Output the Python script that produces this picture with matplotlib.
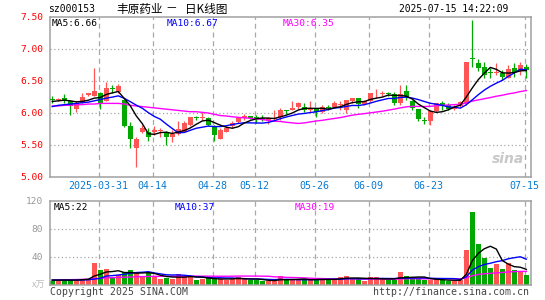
import numpy as np
import pandas as pd
import matplotlib
matplotlib.use("Agg")
import matplotlib.pyplot as plt
from matplotlib.transforms import blended_transform_factory

# ---------------- data ----------------
open_ = [6.22, 6.21, 6.23, 6.18, 6.07, 6.16, 6.28, 6.27, 6.32, 6.19,
         6.38, 6.33, 6.20, 5.80, 5.46, 5.70, 5.71, 5.71, 5.72, 5.69,
         5.62, 5.67, 5.71, 5.81, 5.94, 5.92, 5.92, 5.80, 5.60, 5.71,
         5.79, 5.86, 5.92, 5.95, 5.93, 5.92, 5.88, 5.91, 5.93, 6.04,
         6.05, 6.10, 6.10, 6.05, 6.07, 6.02, 6.09, 6.10, 6.13, 6.05,
         6.19, 6.23, 6.14, 6.18, 6.29, 6.30, 6.31, 6.30, 6.16, 6.34,
         6.19, 6.06, 5.89, 5.88, 6.03, 6.16, 6.13, 6.07, 6.11, 6.14,
         6.86, 6.78, 6.72, 6.63, 6.63, 6.62, 6.55, 6.70, 6.65, 6.72]
high = [6.27, 6.23, 6.29, 6.20, 6.18, 6.31, 6.32, 6.71, 6.33, 6.48,
        6.44, 6.46, 6.21, 5.86, 5.62, 5.81, 5.76, 5.80, 5.77, 5.72,
        5.73, 5.87, 5.87, 5.94, 5.96, 6.02, 5.94, 5.81, 5.76, 5.79,
        5.87, 5.94, 5.98, 5.96, 5.97, 5.97, 5.94, 6.04, 6.08, 6.05,
        6.18, 6.17, 6.15, 6.18, 6.08, 6.12, 6.12, 6.19, 6.18, 6.21,
        6.24, 6.24, 6.21, 6.32, 6.37, 6.35, 6.33, 6.33, 6.44, 6.44,
        6.21, 6.07, 5.94, 6.05, 6.16, 6.18, 6.15, 6.12, 6.18, 6.79,
        7.45, 6.85, 6.80, 6.70, 6.78, 6.67, 6.75, 6.78, 6.80, 6.76]
low = [6.16, 6.19, 6.15, 5.97, 6.02, 6.16, 6.26, 6.27, 6.06, 6.18,
       6.32, 6.32, 5.78, 5.46, 5.16, 5.69, 5.57, 5.66, 5.63, 5.50,
       5.55, 5.66, 5.70, 5.80, 5.89, 5.89, 5.80, 5.57, 5.59, 5.70,
       5.76, 5.84, 5.89, 5.91, 5.85, 5.87, 5.83, 5.89, 5.89, 5.98,
       6.04, 6.06, 6.02, 6.02, 5.94, 6.00, 6.05, 6.09, 6.05, 6.00,
       6.15, 6.08, 6.13, 6.17, 6.23, 6.27, 6.26, 6.13, 6.13, 6.21,
       6.05, 5.88, 5.83, 5.81, 6.02, 6.04, 6.05, 6.05, 6.10, 6.12,
       6.72, 6.65, 6.54, 6.54, 6.59, 6.52, 6.54, 6.57, 6.59, 6.55]
close = [6.21, 6.22, 6.18, 6.11, 6.15, 6.25, 6.31, 6.34, 6.16, 6.39,
         6.37, 6.42, 5.79, 5.59, 5.60, 5.77, 5.63, 5.74, 5.73, 5.63,
         5.67, 5.75, 5.85, 5.93, 5.92, 5.93, 5.81, 5.66, 5.73, 5.76,
         5.85, 5.93, 5.95, 5.92, 5.90, 5.91, 5.92, 5.92, 6.05, 6.03,
         6.08, 6.15, 6.05, 6.06, 6.02, 6.09, 6.08, 6.16, 6.14, 6.20,
         6.23, 6.14, 6.18, 6.31, 6.30, 6.31, 6.30, 6.16, 6.30, 6.25,
         6.08, 5.91, 5.88, 6.03, 6.15, 6.13, 6.06, 6.10, 6.17, 6.79,
         6.84, 6.71, 6.60, 6.62, 6.64, 6.57, 6.69, 6.64, 6.75, 6.67]
volume = [6, 6, 8, 8, 7, 9, 9, 31, 21, 23,
          12, 15, 18, 21, 19, 13, 17, 13, 8, 10,
          9, 16, 13, 12, 7, 8, 10, 9, 9, 7,
          9, 12, 8, 7, 7, 5.7, 6, 6, 13, 7,
          7, 8, 8, 8, 8, 8, 8, 8, 12, 13,
          9, 8, 6, 11, 11, 8, 7, 7, 18, 13,
          10, 9, 7, 7, 8, 7, 6, 6, 7, 50,
          105, 58, 39, 24.8, 30, 22.9, 32, 21.4, 20.5, 15]

# moving-average values at the left edge (they depend on days before the window)
ma5_head = [6.18, 6.19, 6.20, 6.19]
ma10_head = [6.10, 6.12, 6.13, 6.14, 6.15, 6.16, 6.17, 6.19, 6.21]
ma30_head = [6.11, 6.11, 6.12, 6.12, 6.13, 6.13, 6.14, 6.14, 6.15, 6.15,
             6.15, 6.15, 6.14, 6.12, 6.11, 6.10, 6.09, 6.08, 6.07, 6.06,
             6.05, 6.04, 6.03, 6.02, 6.02, 6.01, 6.00, 5.98, 5.96]
vma5_head = [7, 7, 7, 7]
vma10_head = [7, 7, 7, 7, 7, 7.2, 7.4, 8.5, 9.5]
vma30_head = [7.0, 7.2, 7.4, 7.6, 7.8, 8.0, 8.3, 9.0, 9.6, 10.2,
              10.5, 10.8, 11.1, 11.4, 11.7, 12.0, 12.2, 12.3, 12.4, 12.4,
              12.5, 12.5, 12.5, 12.6, 12.6, 12.6, 12.6, 12.5, 12.5]

tick_idx = [8, 17, 27, 34, 44, 53, 63, 79]
tick_labels = ["2025-03-31", "04-14", "04-28", "05-12", "05-26", "06-09", "06-23", "07-15"]
price_ticks = [5.0, 5.5, 6.0, 6.5, 7.0, 7.5]
vol_ticks = [40, 80, 120]

# ---------------- helpers ----------------
def ma(values, n, head):
    s = pd.Series(values, dtype=float).rolling(n).mean().to_numpy()
    s[:len(head)] = head
    return s

W, H = 545, 300
fig = plt.figure(figsize=(W / 100, H / 100), dpi=100)
fig.patch.set_facecolor("white")

def px_ax(l, t, r, b):
    return fig.add_axes([l / W, 1 - b / H, (r - l) / W, (b - t) / H])

def ftext(x, y, s, **kw):
    kw.setdefault("va", "center")
    fig.text(x / W, 1 - y / H, s, **kw)

MONO = "DejaVu Sans Mono"
CJK = ["Noto Sans CJK SC", "DejaVu Sans"]
RED = "#FF5555"
GREEN = "#00A800"
GRID = "#A8A8A8"
SPINE = "#A0A0A0"

n = len(close)
x = np.arange(n)
o = np.array(open_); c = np.array(close); h = np.array(high); l = np.array(low)
up = c >= o
cols = np.where(up, RED, GREEN)
x0, x1 = -0.383, 79.78

ax = px_ax(50, 17, 531, 177)
axv = px_ax(50, 201, 531, 285)

for a in (ax, axv):
    a.set_xlim(x0, x1)
    for sp in a.spines.values():
        sp.set_color(SPINE)
        sp.set_linewidth(1.1)
    a.tick_params(axis="both", length=0)
    a.set_xticks([])
    for t in tick_idx:
        a.axvline(t - 0.3, color=GRID, lw=0.9, ls=(0, (4, 3)), zorder=0)

# ---- price panel ----
ax.set_ylim(5.0, 7.5)
for yv in price_ticks[1:-1]:
    ax.axhline(yv, color=GRID, lw=0.9, ls=(0, (1, 2)), zorder=0)
ax.set_yticks(price_ticks)
ax.set_yticklabels(["%.2f" % v for v in price_ticks], color="#FF0000",
                   fontfamily=MONO, fontsize=6.8)
ax.tick_params(axis="y", pad=5)

ax.vlines(x, l, h, colors=cols, lw=0.9, zorder=2)
body_h = np.maximum(np.abs(c - o), 0.014)
ax.bar(x, body_h, bottom=np.minimum(o, c), width=0.83, color=cols,
       edgecolor="none", zorder=3)

ma5 = ma(close, 5, ma5_head)
ma10 = ma(close, 10, ma10_head)
ma30 = ma(close, 30, ma30_head)
ax.plot(x, ma30, color="#FF00FF", lw=1.0, zorder=4)
ax.plot(x, ma10, color="#0000FF", lw=1.0, zorder=4)
ax.plot(x, ma5, color="black", lw=1.0, zorder=5)

ax.text(0.985, 0.07, "sina", transform=ax.transAxes, ha="right", va="bottom",
        fontsize=10, fontweight="bold", fontstyle="italic", color="#C8C8C8", zorder=1)

trans = blended_transform_factory(ax.transData, ax.transAxes)
for t, s in zip(tick_idx, tick_labels):
    ax.text(t - 0.3, -9 / 160, s, transform=trans, ha="center", va="center",
            color="#0A7BD0", fontfamily=MONO, fontsize=7.2)

# ---- volume panel ----
axv.set_ylim(0, 120)
for yv in vol_ticks[:-1]:
    axv.axhline(yv, color=GRID, lw=0.9, ls=(0, (1, 2)), zorder=0)
axv.set_yticks(vol_ticks)
axv.set_yticklabels([str(v) for v in vol_ticks], color="#999999",
                    fontfamily=MONO, fontsize=6.8)
axv.tick_params(axis="y", pad=5)
axv.bar(x, volume, width=0.83, color=cols, edgecolor="none", zorder=2)
vma5 = ma(volume, 5, vma5_head)
vma10 = ma(volume, 10, vma10_head)
vma30 = ma(volume, 30, vma30_head)
axv.plot(x, vma30, color="#FF00FF", lw=1.0, zorder=4)
axv.plot(x, vma10, color="#0000FF", lw=1.0, zorder=4)
axv.plot(x, vma5, color="black", lw=1.0, zorder=5)

# ---- texts ----
ftext(48, 9, "sz000153", fontfamily=MONO, fontsize=7, color="black")
ftext(116, 9, "丰原药业", fontfamily=CJK, fontsize=8.4, color="black")
ftext(171, 9, "－", fontfamily=CJK, fontsize=8.4, color="black", ha="center")
ftext(185, 9, "日K线图", fontfamily=CJK, fontsize=8.4, color="black")
ftext(508, 9, "2025-07-15 14:22:09", fontfamily=MONO, fontsize=6.9, color="black", ha="right")

ftext(52, 24, "MA5:%.2f" % ma5[-1], fontfamily=MONO, fontsize=6.8, color="black")
ftext(167, 24, "MA10:%.2f" % ma10[-1], fontfamily=MONO, fontsize=6.8, color="#0000FF")
ftext(283, 24, "MA30:%.2f" % ma30[-1], fontfamily=MONO, fontsize=6.8, color="#FF00FF")

ftext(54, 207, "MA5:%d" % round(vma5[-1]), fontfamily=MONO, fontsize=6.8, color="black")
ftext(175, 207, "MA10:%d" % round(vma10[-1]), fontfamily=MONO, fontsize=6.8, color="#0000FF")
ftext(295, 207, "MA30:%d" % round(vma30[-1]), fontfamily=MONO, fontsize=6.8, color="#FF00FF")

ftext(45, 285, "x万", fontfamily=["Noto Sans CJK SC", "DejaVu Sans"], fontsize=6.5,
      color="#BBBBBB", ha="right")
ftext(50, 292, "Copyright 2025 SINA.COM", fontfamily=MONO, fontsize=7.1, color="#444444")
ftext(529, 292, "http://finance.sina.com.cn", fontfamily=MONO, fontsize=7.1,
      color="#444444", ha="right")

fig.savefig("out.png", dpi=100, facecolor="white")
